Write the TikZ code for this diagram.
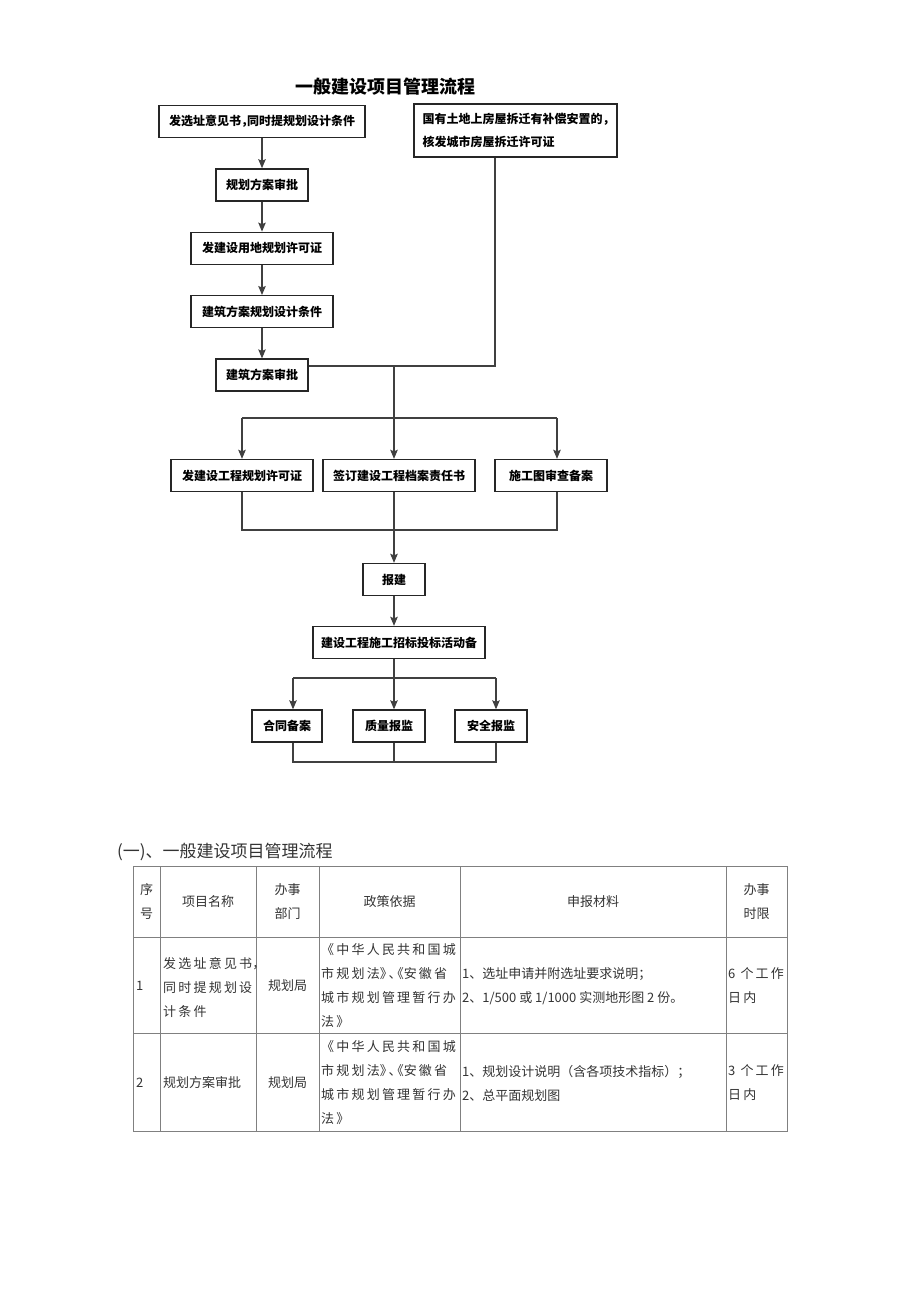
\documentclass[tikz,border=0pt]{standalone}
\usepackage{fontspec}
\setmainfont{Noto Sans CJK SC}
\usetikzlibrary{arrows.meta,positioning}
\newcommand\halfpunct{\addfontfeatures{RawFeature=+halt}}

\begin{document}
\begin{tikzpicture}[
    x=1pt, y=-1pt,
    font=\bfseries\fontsize{12}{23}\selectfont,
    node distance=30pt,
    stepbox/.style={draw=black!85, line width=1.4pt, minimum height=32pt, inner xsep=0pt, align=center},
    flow/.style={-{Stealth[length=9pt,width=7.5pt,inset=1.5pt]}, line width=1.1pt, draw=black!75},
    link/.style={line width=1.1pt, draw=black!75},
    grid/.style={line width=0.9pt, draw=black!50},
    cell/.style={font=\mdseries\fontsize{13}{24}\selectfont, text=black!80, inner sep=0pt, align=left},
    spread/.style={cell, font=\mdseries\fontsize{13}{24}\selectfont\addfontfeatures{LetterSpace=17}}
]
\useasboundingbox (0,0) rectangle (920,1302);

\node[font=\bfseries\fontsize{18}{22}\selectfont] (title) at (385,87) {一般建设项目管理流程};

% left chain
\node[stepbox, minimum width=206pt] (site) at (262,121.5) {发选址意见书{\halfpunct ，}同时提规划设计条件};
\node[stepbox, minimum width=92pt, below=of site] (plan) {规划方案审批};
\node[stepbox, minimum width=142pt, below=of plan] (land) {发建设用地规划许可证};
\node[stepbox, minimum width=142pt, below=of land] (cond) {建筑方案规划设计条件};
\node[stepbox, minimum width=92pt, below=of cond] (approve) {建筑方案审批};

% right box
\node[stepbox, minimum width=203pt, minimum height=53pt, align=left] (relocate) at (515.5,130.5) {国有土地上房屋拆迁有补偿安置的{\halfpunct ，}\\核发城市房屋拆迁许可证};

% permits
\node[stepbox, minimum width=142pt] (permit) at (242,475.5) {发建设工程规划许可证};
\node[stepbox, minimum width=152pt] (archive) at (399,475.5) {签订建设工程档案责任书};
\node[stepbox, minimum width=112pt] (drawing) at (551,475.5) {施工图审查备案};

\node[stepbox, minimum width=62pt] (report) at (394,579.5) {报建};
\node[stepbox, minimum width=172pt] (bid) at (399,642.5) {建设工程施工招标投标活动备};

\node[stepbox, minimum width=70pt] (contract) at (287,726) {合同备案};
\node[stepbox, minimum width=72pt] (quality) at (389,726) {质量报监};
\node[stepbox, minimum width=72pt] (safety) at (491,726) {安全报监};

\draw[flow] (site) -- (plan);
\draw[flow] (plan) -- (land);
\draw[flow] (land) -- (cond);
\draw[flow] (cond) -- (approve);

% merge and split
\coordinate (turn) at (495,366);
\coordinate (merge) at (394,366);
\coordinate (split) at (394,418);
\coordinate (brr) at (557,418);
\draw[link] (relocate.south -| turn) -- (turn) -- (approve.east |- turn);
\draw[link] (merge) -- (split);
\draw[link] (split -| permit.north) -- (brr);
\draw[flow] (split -| permit.north) -- (permit.north);
\draw[flow] (split) -- (archive.north -| split);
\draw[flow] (brr) -- (drawing.north -| brr);

\coordinate (join) at (394,530);
\coordinate (joinr) at (557,530);
\draw[link] (permit.south) -- (join -| permit.south) -- (joinr) -- (drawing.south -| joinr);
\draw[link] (archive.south -| join) -- (join);
\draw[flow] (join) -- (report.north);
\draw[flow] (report.south) -- (report.south |- bid.north);

\coordinate (fork) at (394,678);
\coordinate (forkl) at (293,678);
\coordinate (forkr) at (496,678);
\draw[link] (bid.south -| fork) -- (fork);
\draw[link] (forkl) -- (forkr);
\draw[flow] (forkl) -- (forkl |- contract.north);
\draw[flow] (fork) -- (fork |- quality.north);
\draw[flow] (forkr) -- (forkr |- safety.north);

\coordinate (endl) at (293,762);
\coordinate (endr) at (496,762);
\draw[link] (contract.south -| endl) -- (endl) -- (endr) -- (safety.south -| endr);
\draw[link] (quality.south -| fork) -- (fork |- endl);

% table
\node[cell, font=\mdseries\fontsize{17}{20}\selectfont, anchor=west] (heading) at (117,852) {(一)、一般建设项目管理流程};

\draw[grid] (133,866) rectangle (787,1131);
\foreach \y in {937,1033} \draw[grid] (133,\y) -- (787,\y);
\foreach \x in {160,256,319,460,726} \draw[grid] (\x,866) -- (\x,1131);

\node[cell, align=center] (hno) at (146.5,902) {序\\号};
\node[cell] (hname) at (208,902) {项目名称};
\node[cell, align=center] (hdept) at (287.5,902) {办事\\部门};
\node[cell] (hbasis) at (389.5,902) {政策依据};
\node[cell] (hdocs) at (593,902) {申报材料};
\node[cell, align=center] (htime) at (756.5,902) {办事\\时限};

\node[cell, anchor=west] (no1) at (136,986) {1};
\node[spread, anchor=west] (name1) at (163,987) {发选址意见书{\halfpunct ，}\\同时提规划设\\计条件};
\node[cell] (dept1) at (287.5,986) {规划局};
\node[spread, anchor=west] (basis1) at (321,986) {《中华人民共和国城\\市规划法{\halfpunct 》、《}安徽省\\城市规划管理暂行办\\法》};
\node[cell, anchor=west] (docs1) at (462,986) {1、选址申请并附选址要求说明；\\2、1/500 或 1/1000 实测地形图 2 份。};
\node[spread, anchor=west] (time1) at (728,986) {6 个工作\\日内};

\node[cell, anchor=west] (no2) at (136,1083) {2};
\node[cell, anchor=west] (name2) at (163,1083) {规划方案审批};
\node[cell] (dept2) at (287.5,1083) {规划局};
\node[spread, anchor=west] (basis2) at (321,1083) {《中华人民共和国城\\市规划法{\halfpunct 》、《}安徽省\\城市规划管理暂行办\\法》};
\node[cell, anchor=west] (docs2) at (462,1083) {1、规划设计说明（含各项技术指标）；\\2、总平面规划图};
\node[spread, anchor=west] (time2) at (728,1083) {3 个工作\\日内};
\end{tikzpicture}
\end{document}
